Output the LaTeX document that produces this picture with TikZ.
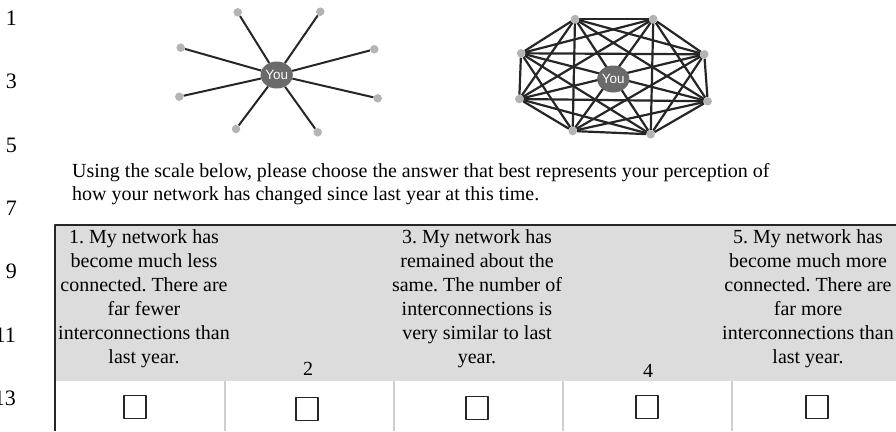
\documentclass[tikz,border=0pt]{standalone}
\usepackage{fontspec}
\setmainfont{Liberation Serif}
\newfontfamily\youfont{Liberation Sans}
\usetikzlibrary{shapes.geometric,backgrounds}
\definecolor{edgegray}{HTML}{262626}
\definecolor{dotgray}{HTML}{B4B4B4}
\definecolor{yougray}{HTML}{6A6A6A}
\definecolor{hdrgray}{HTML}{DCDCDC}
\definecolor{rulegray}{HTML}{CFCFCF}
\frenchspacing

\begin{document}
\begin{tikzpicture}[x=1pt,y=-1pt,line cap=round,line join=round,
  every node/.style={inner sep=0pt},
  dot/.style={circle,fill=dotgray,minimum size=8.5pt},
  you/.style={ellipse,fill=yougray,minimum width=31pt,minimum height=27pt,text=white,font=\youfont\fontsize{13.5}{13.5}\selectfont},
  edge/.style={draw=edgegray,line width=2pt},
  lnum/.style={anchor=base east,font=\fontsize{22}{22}\selectfont},
  txt/.style={font=\fontsize{20}{24}\selectfont},
  cell/.style={txt,anchor=north,align=center},
  tickbox/.style={draw=edgegray,line width=1.8pt,minimum width=22pt,minimum height=23pt}]
  \useasboundingbox (0,0) rectangle (896,431);
  % Zeilennummern am Rand
  \node[lnum] (n1) at (17,25) {1};
  \node[lnum] (n3) at (17,88) {3};
  \node[lnum] (n5) at (17,152) {5};
  \node[lnum] (n7) at (17,215) {7};
  \node[lnum] (n9) at (17,278) {9};
  \node[lnum] (n11) at (16,342) {11};
  \node[lnum] (n13) at (16,405) {13};
  % Stern: wenig vernetzt
  \node[dot] (a1) at (237.7,12.3) {};
  \node[dot] (a2) at (320.3,11.7) {};
  \node[dot] (a3) at (374.3,49.3) {};
  \node[dot] (a4) at (377.7,98.3) {};
  \node[dot] (a5) at (317.7,132.3) {};
  \node[dot] (a6) at (236,129) {};
  \node[dot] (a7) at (179.3,96.7) {};
  \node[dot] (a8) at (180.7,47.7) {};
  \node[you] (youA) at (276.7,75) {You};
  \begin{scope}[on background layer]
    \foreach \i in {1,...,8} \draw[edge] (youA) -- (a\i);
  \end{scope}
  % Vollgraph: stark vernetzt
  \node[dot] (b1) at (575,19) {};
  \node[dot] (b2) at (653.3,19) {};
  \node[dot] (b3) at (704.3,54.3) {};
  \node[dot] (b4) at (707.7,101.3) {};
  \node[dot] (b5) at (650.7,134.3) {};
  \node[dot] (b6) at (572.7,131) {};
  \node[dot] (b7) at (519.3,99) {};
  \node[dot] (b8) at (521,53.3) {};
  \begin{scope}[on background layer]
    \foreach \i in {1,...,8}
      \foreach \j in {1,...,8}
        {\ifnum\i<\j \draw[edge,line width=2.2pt] (b\i) -- (b\j);\fi}
  \end{scope}
  \node[you] (youB) at (613.3,79) {You};
  % Fragetext
  \node[txt,anchor=base west] (q1) at (72,177)
    {Using the scale below, please choose the answer that best represents your perception of};
  \node[txt,anchor=base west] (q2) at (72,200)
    {how your network has changed since last year at this time.};
  % Tabelle
  \fill[hdrgray] (55,225) rectangle (896,381);
  \foreach \x in {225,394,563,732} \draw[rulegray,line width=1.5pt,line cap=butt] (\x,381) -- (\x,431);
  \draw[edgegray,line width=2.5pt,line cap=butt] (55,431) -- (55,225) -- (896,225);
  \node[cell] (c1) at (144,229.5) {1. My network has\\become much less\\connected. There are\\far fewer\\interconnections than\\last year.};
  \node[txt,anchor=base] (c2) at (308,375) {2};
  \node[cell] (c3) at (477,229.5) {3. My network has\\remained about the\\same. The number of\\interconnections is\\very similar to last\\year.};
  \node[txt,anchor=base] (c4) at (648,377) {4};
  \node[cell] (c5) at (808,229.5) {5. My network has\\become much more\\connected. There are\\far more\\interconnections than\\last year.};
  % Ankreuzfelder
  \node[tickbox] (t1) at (135,407) {};
  \node[tickbox] (t2) at (307,409) {};
  \node[tickbox] (t3) at (477,408) {};
  \node[tickbox] (t4) at (647,407) {};
  \node[tickbox] (t5) at (817,407) {};
\end{tikzpicture}
\end{document}
